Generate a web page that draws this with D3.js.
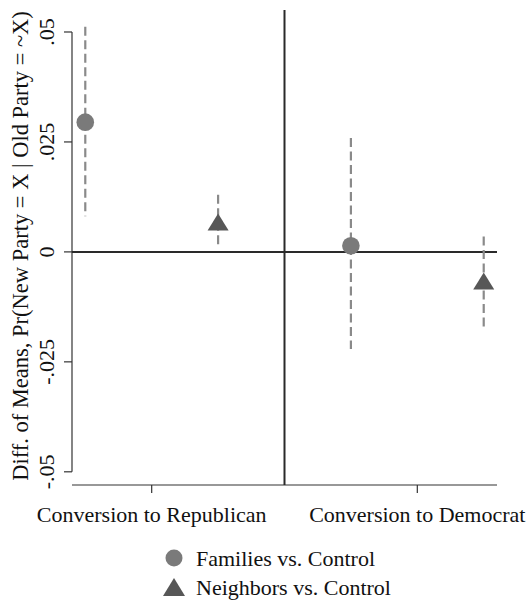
<!DOCTYPE html>
<html><head><meta charset="utf-8">
<script src="https://cdn.jsdelivr.net/npm/d3@7/dist/d3.min.js"></script>
<style>body{margin:0;background:#fff}svg{display:block}text{font-family:"Liberation Serif","Times New Roman",serif;fill:#111}</style>
</head><body>
<script>
const categories = ["Conversion to Republican", "Conversion to Democrat"];
const catPos = [1, 2];
const familiesEst = [0.0295, 0.0014];
const familiesLo = [0.0081, -0.0221];
const familiesHi = [0.0512, 0.0259];
const neighborsEst = [0.0068, -0.0066];
const neighborsLo = [0.0009, -0.0175];
const neighborsHi = [0.0130, 0.0035];
const yTicks = [-0.05, -0.025, 0, 0.025, 0.05];
const yTickLabels = ["-.05", "-.025", "0", ".025", ".05"];
const seriesNames = ["Families vs. Control", "Neighbors vs. Control"];
const offsets = [-0.25, 0.25];

const W = 529, H = 602;
const svg = d3.select("body").append("svg").attr("width", W).attr("height", H);
const x = d3.scaleLinear().domain([0.7, 2.3]).range([72, 497]);
const y = d3.scaleLinear().domain([-0.053, 0.055]).range([485, 10]);

const fs = 22;
const axisCol = "#333";

// y axis
const gy = svg.append("g").attr("transform", `translate(${x(0.7)},0)`);
gy.append("line").attr("y1", y(0.05)).attr("y2", y(-0.05)).attr("stroke", axisCol).attr("stroke-width", 1.2);
yTicks.forEach((t, i) => {
  gy.append("line").attr("x1", -8).attr("x2", 0).attr("y1", y(t)).attr("y2", y(t)).attr("stroke", axisCol).attr("stroke-width", 1.2);
  gy.append("text").attr("transform", `translate(-18,${y(t)}) rotate(-90)`)
    .attr("text-anchor", "middle").attr("font-size", fs).text(yTickLabels[i]);
});
svg.append("text").attr("transform", `translate(28,246) rotate(-90)`)
  .attr("text-anchor", "middle").attr("font-size", 22.5)
  .text("Diff. of Means, Pr(New Party = X | Old Party = ~X)");

// x axis
const gx = svg.append("g").attr("transform", `translate(0,${y(-0.053)})`);
gx.append("line").attr("x1", x(0.7)).attr("x2", x(2.3)).attr("stroke", axisCol).attr("stroke-width", 1.2);
categories.forEach((c, i) => {
  gx.append("line").attr("x1", x(catPos[i])).attr("x2", x(catPos[i])).attr("y1", 0).attr("y2", 8).attr("stroke", axisCol).attr("stroke-width", 1.2);
  gx.append("text").attr("x", x(catPos[i])).attr("y", 37).attr("text-anchor", "middle").attr("font-size", fs).text(c);
});

// reference lines
svg.append("line").attr("x1", x(0.7)).attr("x2", x(2.3)).attr("y1", y(0)).attr("y2", y(0)).attr("stroke", "#2a2a2a").attr("stroke-width", 2);
svg.append("line").attr("x1", x(1.5)).attr("x2", x(1.5)).attr("y1", y(0.055)).attr("y2", y(-0.053)).attr("stroke", "#2a2a2a").attr("stroke-width", 2);

const ciCol = "#8a8a8a";
const famCol = "#7a7a7a";
const neiCol = "#575757";
const tri = (cx, cy, w, h) => `M${cx - w / 2},${cy + h / 2}L${cx + w / 2},${cy + h / 2}L${cx},${cy - h / 2}Z`;

const series = [
  {est: familiesEst, lo: familiesLo, hi: familiesHi, off: offsets[0], shape: "circle", col: famCol},
  {est: neighborsEst, lo: neighborsLo, hi: neighborsHi, off: offsets[1], shape: "tri", col: neiCol}
];
series.forEach(s => {
  categories.forEach((c, i) => {
    const cx = x(catPos[i] + s.off);
    svg.append("line").attr("x1", cx).attr("x2", cx).attr("y1", y(s.hi[i])).attr("y2", y(s.lo[i]))
      .attr("stroke", ciCol).attr("stroke-width", 2.2).attr("stroke-dasharray", "9,4.5");
  });
});
series.forEach(s => {
  categories.forEach((c, i) => {
    const cx = x(catPos[i] + s.off), cy = y(s.est[i]);
    if (s.shape === "circle") svg.append("circle").attr("cx", cx).attr("cy", cy).attr("r", 8.8).attr("fill", s.col);
    else svg.append("path").attr("d", tri(cx, cy, 21, 17)).attr("fill", s.col);
  });
});

// legend
const lg = [{y: 558, shape: "circle", col: famCol}, {y: 587, shape: "tri", col: neiCol}];
lg.forEach((l, i) => {
  if (l.shape === "circle") svg.append("circle").attr("cx", 174).attr("cy", l.y).attr("r", 8.5).attr("fill", l.col);
  else svg.append("path").attr("d", tri(174, l.y, 22, 18)).attr("fill", l.col);
  svg.append("text").attr("x", 196).attr("y", l.y + 8).attr("font-size", fs).text(seriesNames[i]);
});
</script>
</body></html>
